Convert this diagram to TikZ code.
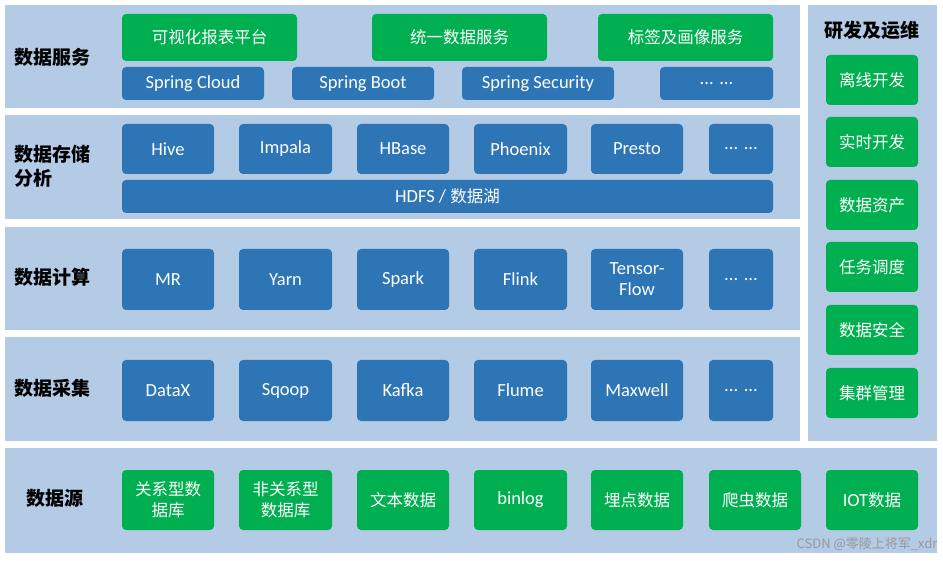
\documentclass[tikz,border=0pt]{standalone}
\usepackage{fontspec}
\setmainfont{Carlito}
\newfontfamily\cjk{Noto Sans CJK SC}
\definecolor{layer}{HTML}{B4CBE6}
\definecolor{gbox}{HTML}{00B050}
\definecolor{bbox}{HTML}{2E75B6}
\tikzset{
 layerbox/.style={fill=layer,draw=none},
 gnode/.style={fill=gbox,draw=none,rounded corners=4pt,text=white,font=\cjk\fontsize{16.5}{21}\selectfont,align=center},
 bnode/.style={fill=bbox,draw=none,rounded corners=4pt,text=white,font=\fontsize{18.5}{21}\selectfont,align=center},
 ttl/.style={font=\cjk\bfseries\fontsize{19}{24}\selectfont,align=left,anchor=west}
}
\newcommand{\bx}[6]{\node[#1,minimum width=#4pt-#3pt,minimum height=#6pt-#5pt,inner sep=0pt] (#2) at ({(#3+#4)/2*1pt},{-(#5+#6)/2*1pt})}
\begin{document}
\begin{tikzpicture}[x=1pt,y=1pt]
\useasboundingbox (0,0) rectangle (943,-561);
\fill[white] (0,0) rectangle (943,-561);
\fill[layer] (5,-5) rectangle (800,-108);
\fill[layer] (5,-115) rectangle (800,-219);
\fill[layer] (5,-227) rectangle (800,-330);
\fill[layer] (5,-337) rectangle (800,-441);
\fill[layer] (5,-448) rectangle (937,-553);
\fill[layer] (808,-5) rectangle (937,-441);
\node[ttl] (t1) at (11,-57) {数据服务};
\node[ttl] (t2) at (11,-166) {数据存储\\分析};
\node[ttl] (t3) at (11,-277) {数据计算};
\node[ttl] (t4) at (11,-388) {数据采集};
\node[ttl] (t5) at (23,-498) {数据源};
\node[font=\cjk\bfseries\fontsize{19}{24}\selectfont] (t6) at (872,-30) {研发及运维};
% service
\bx{gnode}{s1}{122}{297}{14}{61}{可视化报表平台};
\bx{gnode}{s2}{372}{547}{14}{61}{统一数据服务};
\bx{gnode}{s3}{598}{773}{14}{61}{标签及画像服务};
\bx{bnode}{p1}{122}{264}{67}{100}{Spring Cloud};
\bx{bnode}{p2}{292}{434}{67}{100}{Spring Boot};
\bx{bnode}{p3}{462}{614}{67}{100}{Spring Security};
\bx{bnode}{p4}{660}{773}{67}{100}{... ...};
% storage
\bx{bnode}{h1}{122}{214}{124}{174}{Hive};
\bx{bnode}{h2}{239}{332}{124}{174}{Impala};
\bx{bnode}{h3}{357}{449}{124}{174}{HBase};
\bx{bnode}{h4}{474}{567}{124}{174}{Phoenix};
\bx{bnode}{h5}{591}{683}{124}{174}{Presto};
\bx{bnode}{h6}{709}{773}{124}{174}{... ...};
\bx{bnode}{hd}{122}{773}{180}{213}{HDFS / {\cjk\fontsize{16.5}{21}\selectfont 数据湖}};
% compute
\bx{bnode}{c1}{122}{214}{249}{310}{MR};
\bx{bnode}{c2}{239}{332}{249}{310}{Yarn};
\bx{bnode}{c3}{357}{449}{249}{310}{Spark};
\bx{bnode}{c4}{474}{567}{249}{310}{Flink};
\bx{bnode}{c5}{591}{683}{249}{310}{Tensor-\\Flow};
\bx{bnode}{c6}{709}{773}{249}{310}{... ...};
% collect
\bx{bnode}{k1}{122}{214}{360}{421}{DataX};
\bx{bnode}{k2}{239}{332}{360}{421}{Sqoop};
\bx{bnode}{k3}{357}{449}{360}{421}{Kafka};
\bx{bnode}{k4}{474}{567}{360}{421}{Flume};
\bx{bnode}{k5}{591}{683}{360}{421}{Maxwell};
\bx{bnode}{k6}{709}{773}{360}{421}{... ...};
% source
\bx{gnode}{d1}{122}{214}{470}{530}{关系型数\\据库};
\bx{gnode}{d2}{239}{332}{470}{530}{非关系型\\数据库};
\bx{gnode}{d3}{357}{449}{470}{530}{文本数据};
\bx{gnode}{d4}{474}{567}{470}{530}{\fontspec{Carlito}\fontsize{18.5}{21}\selectfont binlog};
\bx{gnode}{d5}{591}{683}{470}{530}{埋点数据};
\bx{gnode}{d6}{709}{801}{470}{530}{爬虫数据};
\bx{gnode}{d7}{826}{918}{470}{530}{{\fontspec{Carlito}\fontsize{18.5}{21}\selectfont IOT}数据};
% ops
\bx{gnode}{o1}{826}{918}{55}{105}{离线开发};
\bx{gnode}{o2}{826}{918}{117}{167}{实时开发};
\bx{gnode}{o3}{826}{918}{180}{230}{数据资产};
\bx{gnode}{o4}{826}{918}{242}{292}{任务调度};
\bx{gnode}{o5}{826}{918}{305}{355}{数据安全};
\bx{gnode}{o6}{826}{918}{368}{418}{集群管理};
\node[anchor=east,text=gray!80,font=\cjk\fontsize{13}{15}\selectfont] (wm) at (941,-544) {CSDN @零陵上将军\_xdr};
\end{tikzpicture}
\end{document}
